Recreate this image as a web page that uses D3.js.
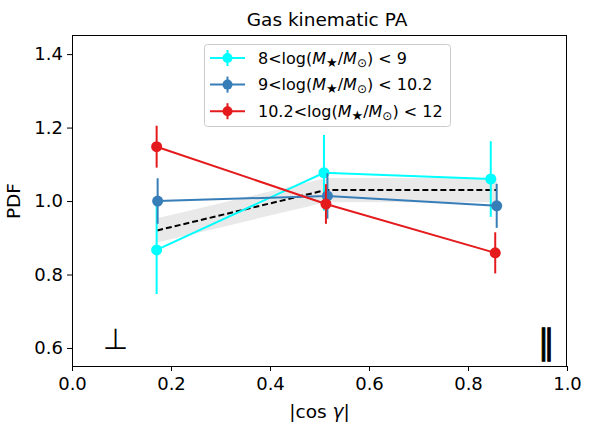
<!DOCTYPE html>
<html>
<head>
<meta charset="utf-8">
<script src="https://cdn.jsdelivr.net/npm/d3@7"></script>
<style>
  body { margin: 0; background: #fff; }
  text { font-family: "DejaVu Sans", sans-serif; }
</style>
</head>
<body>
<div id="chart"></div>
<script>
// series: x position, PDF value, error half-width
var seriesNames = ["8<log(M★/M⊙) < 9", "9<log(M★/M⊙) < 10.2", "10.2<log(M★/M⊙) < 12"];
var seriesColors = ["#00ffff", "#377eb8", "#e41a1c"];

var lowX  = [0.171, 0.509, 0.846];
var lowY  = [0.867, 1.077, 1.060];
var lowErr = [0.120, 0.103, 0.103];

var midX  = [0.173, 0.516, 0.858];
var midY  = [1.000, 1.014, 0.987];
var midErr = [0.062, 0.062, 0.060];

var highX  = [0.171, 0.513, 0.855];
var highY  = [1.148, 0.992, 0.859];
var highErr = [0.057, 0.054, 0.056];

// all-sample expectation (dashed) and its band
var refX = [0.172, 0.513, 0.858];
var refY = [0.920, 1.030, 1.030];
var refLo = [0.887, 0.997, 0.997];
var refHi = [0.953, 1.063, 1.063];

var xTicks = [0.0, 0.2, 0.4, 0.6, 0.8, 1.0];
var yTicks = [0.6, 0.8, 1.0, 1.2, 1.4];

var width = 598, height = 425;
var margin = {top: 35, right: 31, bottom: 59, left: 72};

var svg = d3.select("#chart").append("svg")
    .attr("width", width)
    .attr("height", height);

var x = d3.scaleLinear().domain([0, 1]).range([margin.left, width - margin.right]);
var y = d3.scaleLinear().domain([0.551, 1.452]).range([height - margin.bottom, margin.top]);

// band + dashed line
var band = refX.map(function(d, i){ return [d, refLo[i], refHi[i]]; });
svg.append("path")
    .attr("d", d3.area().x(d => x(d[0])).y0(d => y(d[1])).y1(d => y(d[2]))(band))
    .attr("fill", "#e9e9e9");

svg.append("path")
    .attr("d", d3.line().x(d => x(d[0])).y(d => y(d[1]))(refX.map((d, i) => [d, refY[i]])))
    .attr("fill", "none")
    .attr("stroke", "#000")
    .attr("stroke-width", 2)
    .attr("stroke-dasharray", "6,3");

var allSeries = [
  {xs: lowX, ys: lowY, err: lowErr},
  {xs: midX, ys: midY, err: midErr},
  {xs: highX, ys: highY, err: highErr}
];

allSeries.forEach(function(s, k){
  var col = seriesColors[k];
  var pts = s.xs.map(function(d, i){ return [d, s.ys[i], s.err[i]]; });
  var g = svg.append("g");
  g.append("path")
    .attr("d", d3.line().x(d => x(d[0])).y(d => y(d[1]))(pts))
    .attr("fill", "none")
    .attr("stroke", col)
    .attr("stroke-width", 2);
  g.selectAll("line.err").data(pts).enter().append("line")
    .attr("x1", d => x(d[0])).attr("x2", d => x(d[0]))
    .attr("y1", d => y(d[1] - d[2])).attr("y2", d => y(d[1] + d[2]))
    .attr("stroke", col)
    .attr("stroke-width", 2);
  g.selectAll("circle").data(pts).enter().append("circle")
    .attr("cx", d => x(d[0])).attr("cy", d => y(d[1]))
    .attr("r", 5.5)
    .attr("fill", col);
});

// axes
var xAxis = svg.append("g")
    .attr("transform", "translate(0," + (height - margin.bottom) + ")")
    .call(d3.axisBottom(x).tickValues(xTicks).tickFormat(d3.format(".1f")).tickSizeOuter(0).tickSize(5).tickPadding(6));
var yAxis = svg.append("g")
    .attr("transform", "translate(" + margin.left + ",0)")
    .call(d3.axisLeft(y).tickValues(yTicks).tickFormat(d3.format(".1f")).tickSizeOuter(0).tickSize(5).tickPadding(4));
[xAxis, yAxis].forEach(function(a){
  a.select(".domain").remove();
  a.selectAll("text").attr("font-size", 18).attr("fill", "#000").style("font-family", "DejaVu Sans");
  a.selectAll("line").attr("stroke", "#000").attr("stroke-width", 1);
});

svg.append("rect")
    .attr("x", margin.left + 0.5).attr("y", margin.top + 0.5)
    .attr("width", width - margin.left - margin.right - 1)
    .attr("height", height - margin.bottom - margin.top)
    .attr("fill", "none")
    .attr("stroke", "#000")
    .attr("stroke-width", 1);

// perpendicular / parallel markers
svg.append("text")
    .attr("x", x(0.0875)).attr("y", 349)
    .attr("text-anchor", "middle")
    .attr("font-size", 29)
    .text("⊥");
svg.append("text")
    .attr("x", x(0.958)).attr("y", 354)
    .attr("text-anchor", "middle")
    .attr("font-size", 34)
    .attr("stroke", "#000")
    .attr("stroke-width", 0.9)
    .text("∥");

// title + labels
svg.append("text")
    .attr("x", 327).attr("y", 26)
    .attr("text-anchor", "middle")
    .attr("font-size", 18.5)
    .text("Gas kinematic PA");

svg.append("text")
    .attr("transform", "translate(20," + y(1.0) + ") rotate(-90)")
    .attr("text-anchor", "middle")
    .attr("font-size", 18.5)
    .text("PDF");

svg.append("text")
    .attr("x", x(0.5)).attr("y", 418)
    .attr("text-anchor", "middle")
    .attr("font-size", 18.5)
    .html("|cos <tspan font-style='italic'>γ</tspan>|");

// legend
var leg = svg.append("g").attr("transform", "translate(204,44)");
leg.append("rect")
    .attr("x", 0.5).attr("y", 0.5)
    .attr("width", 246).attr("height", 82)
    .attr("rx", 3)
    .attr("fill", "#fff")
    .attr("stroke", "#ccc");

var legLabels = [
  ["8<log(", "/", ") < 9"],
  ["9<log(", "/", ") < 10.2"],
  ["10.2<log(", "/", ") < 12"]
];
seriesNames.forEach(function(name, k){
  var cy = 14 + k * 26.6;
  var row = leg.append("g").attr("transform", "translate(0," + cy + ")");
  row.append("line").attr("x1", 6).attr("x2", 41).attr("y1", 0).attr("y2", 0)
    .attr("stroke", seriesColors[k]).attr("stroke-width", 2);
  row.append("line").attr("x1", 23.5).attr("x2", 23.5).attr("y1", -8).attr("y2", 8)
    .attr("stroke", seriesColors[k]).attr("stroke-width", 2);
  row.append("circle").attr("cx", 23.5).attr("cy", 0).attr("r", 5).attr("fill", seriesColors[k]);
  var t = row.append("text").attr("x", 54).attr("y", 5.5).attr("font-size", 16);
  var p = legLabels[k];
  t.append("tspan").text(p[0]);
  t.append("tspan").attr("font-style", "italic").text("M");
  t.append("tspan").attr("font-size", 13).attr("dy", 3).text("★");
  t.append("tspan").attr("dy", -3).text(p[1]);
  t.append("tspan").attr("font-style", "italic").text("M");
  t.append("tspan").attr("font-size", 12).attr("dy", 3).text("⊙");
  t.append("tspan").attr("dy", -3).text(p[2]);
});
</script>
</body>
</html>
